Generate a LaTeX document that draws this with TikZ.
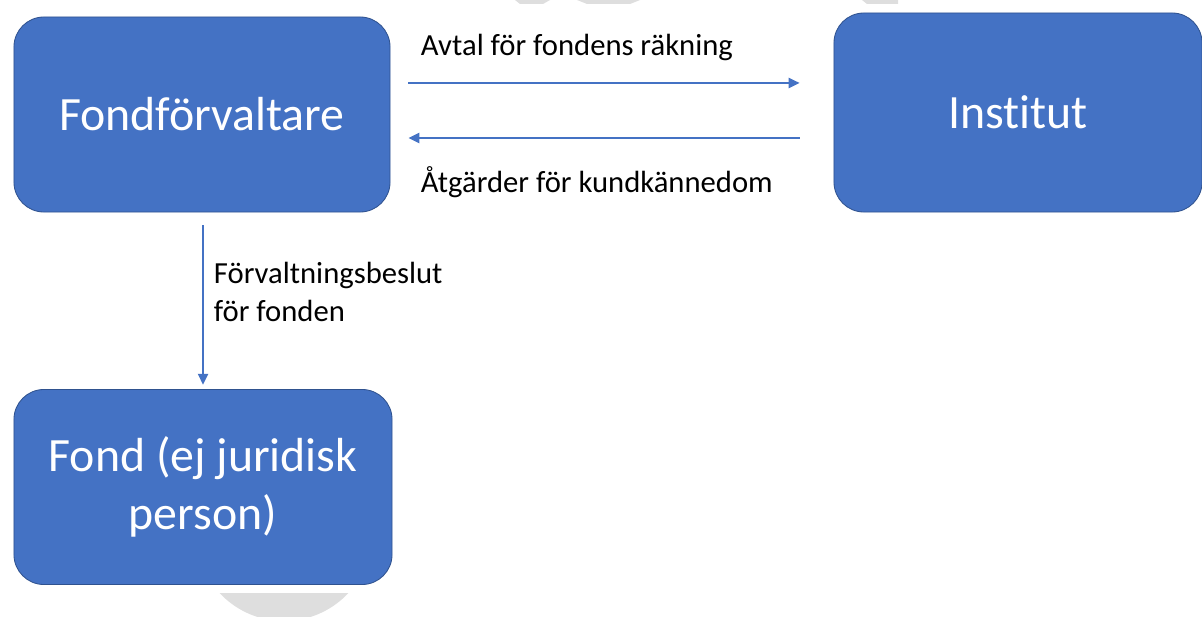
\documentclass[tikz,border=0pt]{standalone}
\usepackage{fontspec}
\setmainfont[Ligatures={NoCommon}]{Carlito}
\usetikzlibrary{positioning,calc,arrows.meta}
\definecolor{boxblue}{HTML}{4472C4}
\definecolor{boxedge}{HTML}{2F528F}
\definecolor{wmgray}{HTML}{DEDEDE}
\tikzset{block/.style={draw=boxedge,fill=boxblue,rounded corners=0.75cm,text=white,align=center,line width=0.6pt,font=\fontsize{34}{41}\selectfont}}
\tikzset{pil/.style={-{Triangle[length=0.27cm,width=0.26cm]},draw=boxblue,line width=0.9pt}}
\tikzset{etikett/.style={font=\fontsize{21.8}{27}\selectfont,align=left}}

\begin{document}
\begin{tikzpicture}[x=0.025cm, y=-0.025cm]
\useasboundingbox (0,0) rectangle (1202,617);

% Bakgrund
\fill[wmgray] (515,0) -- (550,0) -- (543,4) -- (520,4) -- cycle;
\fill[wmgray] (577,0) -- (640,0) -- (630,4) -- (587,4) -- cycle;
\fill[wmgray] (862,0) -- (898,0) -- (898,4) -- (867,4) -- cycle;
\begin{scope}
\clip (200,593) rectangle (370,617);
\fill[wmgray] (284,533) circle (2.2cm);
\end{scope}

% Rutor
\node [block, minimum width=9.4cm, minimum height=4.875cm] (fondf) at (202,114.5) {Fondförvaltare};
\node [block, minimum width=9.2cm, minimum height=4.975cm] (institut) at (1018,112.5) {Institut};
\node [block, minimum width=9.45cm, minimum height=4.875cm] (fond) at (203,487) {Fond (ej juridisk\\person)};

% Etiketter
\node [etikett, anchor=west] (avtal) at (416,47) {Avtal för fondens räkning};
\node [etikett, anchor=west] (atgarder) at (416,182) {Åtgärder för kundkännedom};
\node [etikett, anchor=west] (beslut) at (209,292) {Förvaltningsbeslut\\för fonden};

% Pilar
\draw[pil] ($(fondf.east)+(18,-31.5)$) -- ($(institut.west)+(-34,-29.5)$);
\draw[pil] ($(institut.west)+(-34,25.5)$) -- ($(fondf.east)+(18,23.5)$);
\draw[pil] ($(fondf.south)+(1,13)$) -- ($(fond.north)+(0,-4.5)$);

\end{tikzpicture}
\end{document}
